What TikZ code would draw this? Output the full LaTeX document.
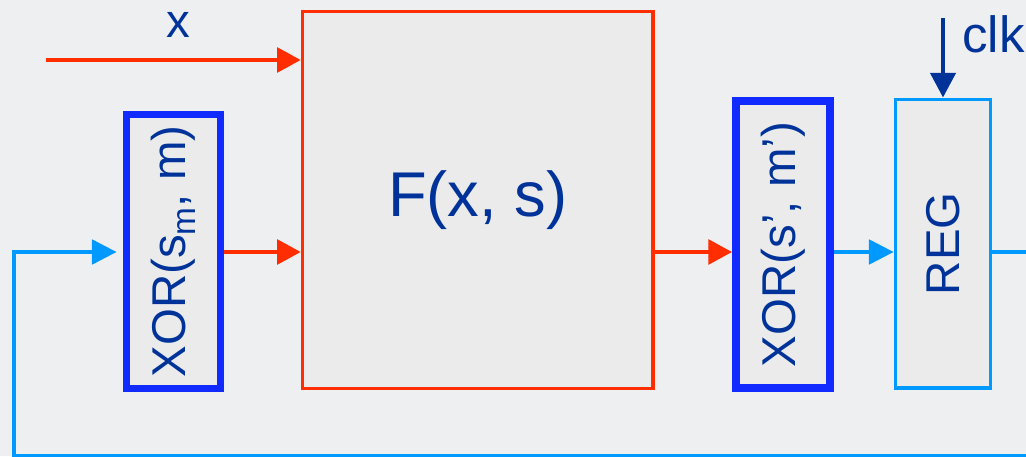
\documentclass[tikz,border=0pt]{standalone}
\usepackage{fontspec}
\setmainfont{Liberation Sans}
\usetikzlibrary{arrows.meta,calc}
\definecolor{bgray}{RGB}{238,239,241}
\definecolor{boxgray}{RGB}{235,235,236}
\definecolor{fred}{RGB}{255,45,0}
\definecolor{xorblue}{RGB}{16,42,255}
\definecolor{lblue}{RGB}{0,153,255}
\definecolor{dblue}{RGB}{0,51,153}

\begin{document}
\begin{tikzpicture}[x=0.02cm,y=-0.02cm,
lbl/.style={text=dblue,inner sep=0pt,font=\fontsize{27}{32}\selectfont},
blk/.style={fill=boxgray,inner sep=0pt,text=dblue,font=\fontsize{27}{32}\selectfont},
xorbox/.style={blk,draw=xorblue,line width=4.5pt},
redarr/.style={-{Triangle[length=13.5pt,width=14pt]},line width=2.3pt,draw=fred},
bluarr/.style={-{Triangle[length=14pt,width=14pt]},line width=1.8pt,draw=lblue},
clkarr/.style={-{Triangle[length=14pt,width=14pt]},line width=2.8pt,draw=dblue}]
\clip (0,0) rectangle (1026,456);
\fill[bgray] (0,0) rectangle (1026,456);
% blocks
\node[xorbox,minimum width=1.88cm,minimum height=5.48cm] (xor1) at (173.5,251.5)
  {\rotatebox{90}{XOR(s\raisebox{-0.4ex}{\fontsize{19}{20}\selectfont m}, m)}};
\node[blk,draw=fred,line width=2pt,minimum width=7.01cm,minimum height=7.54cm,
  font=\fontsize{36}{42}\selectfont] (F) at (477.75,200) {F(x, s)};
\node[xorbox,minimum width=1.88cm,minimum height=5.74cm] (xor2) at (783,244.5)
  {\rotatebox{90}{XOR(s’, m’)}};
\node[blk,draw=lblue,line width=2.2pt,minimum width=1.9cm,minimum height=5.77cm] (reg) at (943,243.75)
  {\rotatebox{90}{REG}};
% inputs
\node[lbl] (xlbl) at (178,25) {x};
\coordinate (xin) at (46,60);
\coordinate (clkin) at (943,18);
\node[lbl,anchor=base west,font=\fontsize{29}{34}\selectfont] (clk) at (962,52) {clk};
\coordinate (mid) at (0,252);
% connectors
\draw[redarr] (xin) -- (F.west |- xin);
\draw[redarr] (xor1.east |- mid) -- (F.west |- mid);
\draw[redarr] (F.east |- mid) -- (xor2.west |- mid);
\draw[bluarr] (xor2.east |- mid) -- (reg.west |- mid);
\draw[clkarr] (clkin) -- (reg.north);
% feedback
\coordinate (fb1) at (1040,252);
\coordinate (fb2) at (1040,456);
\coordinate (fb3) at (14,456);
\draw[bluarr,shorten >=3.4pt] (reg.east |- mid) -- (fb1) -- (fb2) -- (fb3) |- (xor1.west |- mid);
\end{tikzpicture}
\end{document}
